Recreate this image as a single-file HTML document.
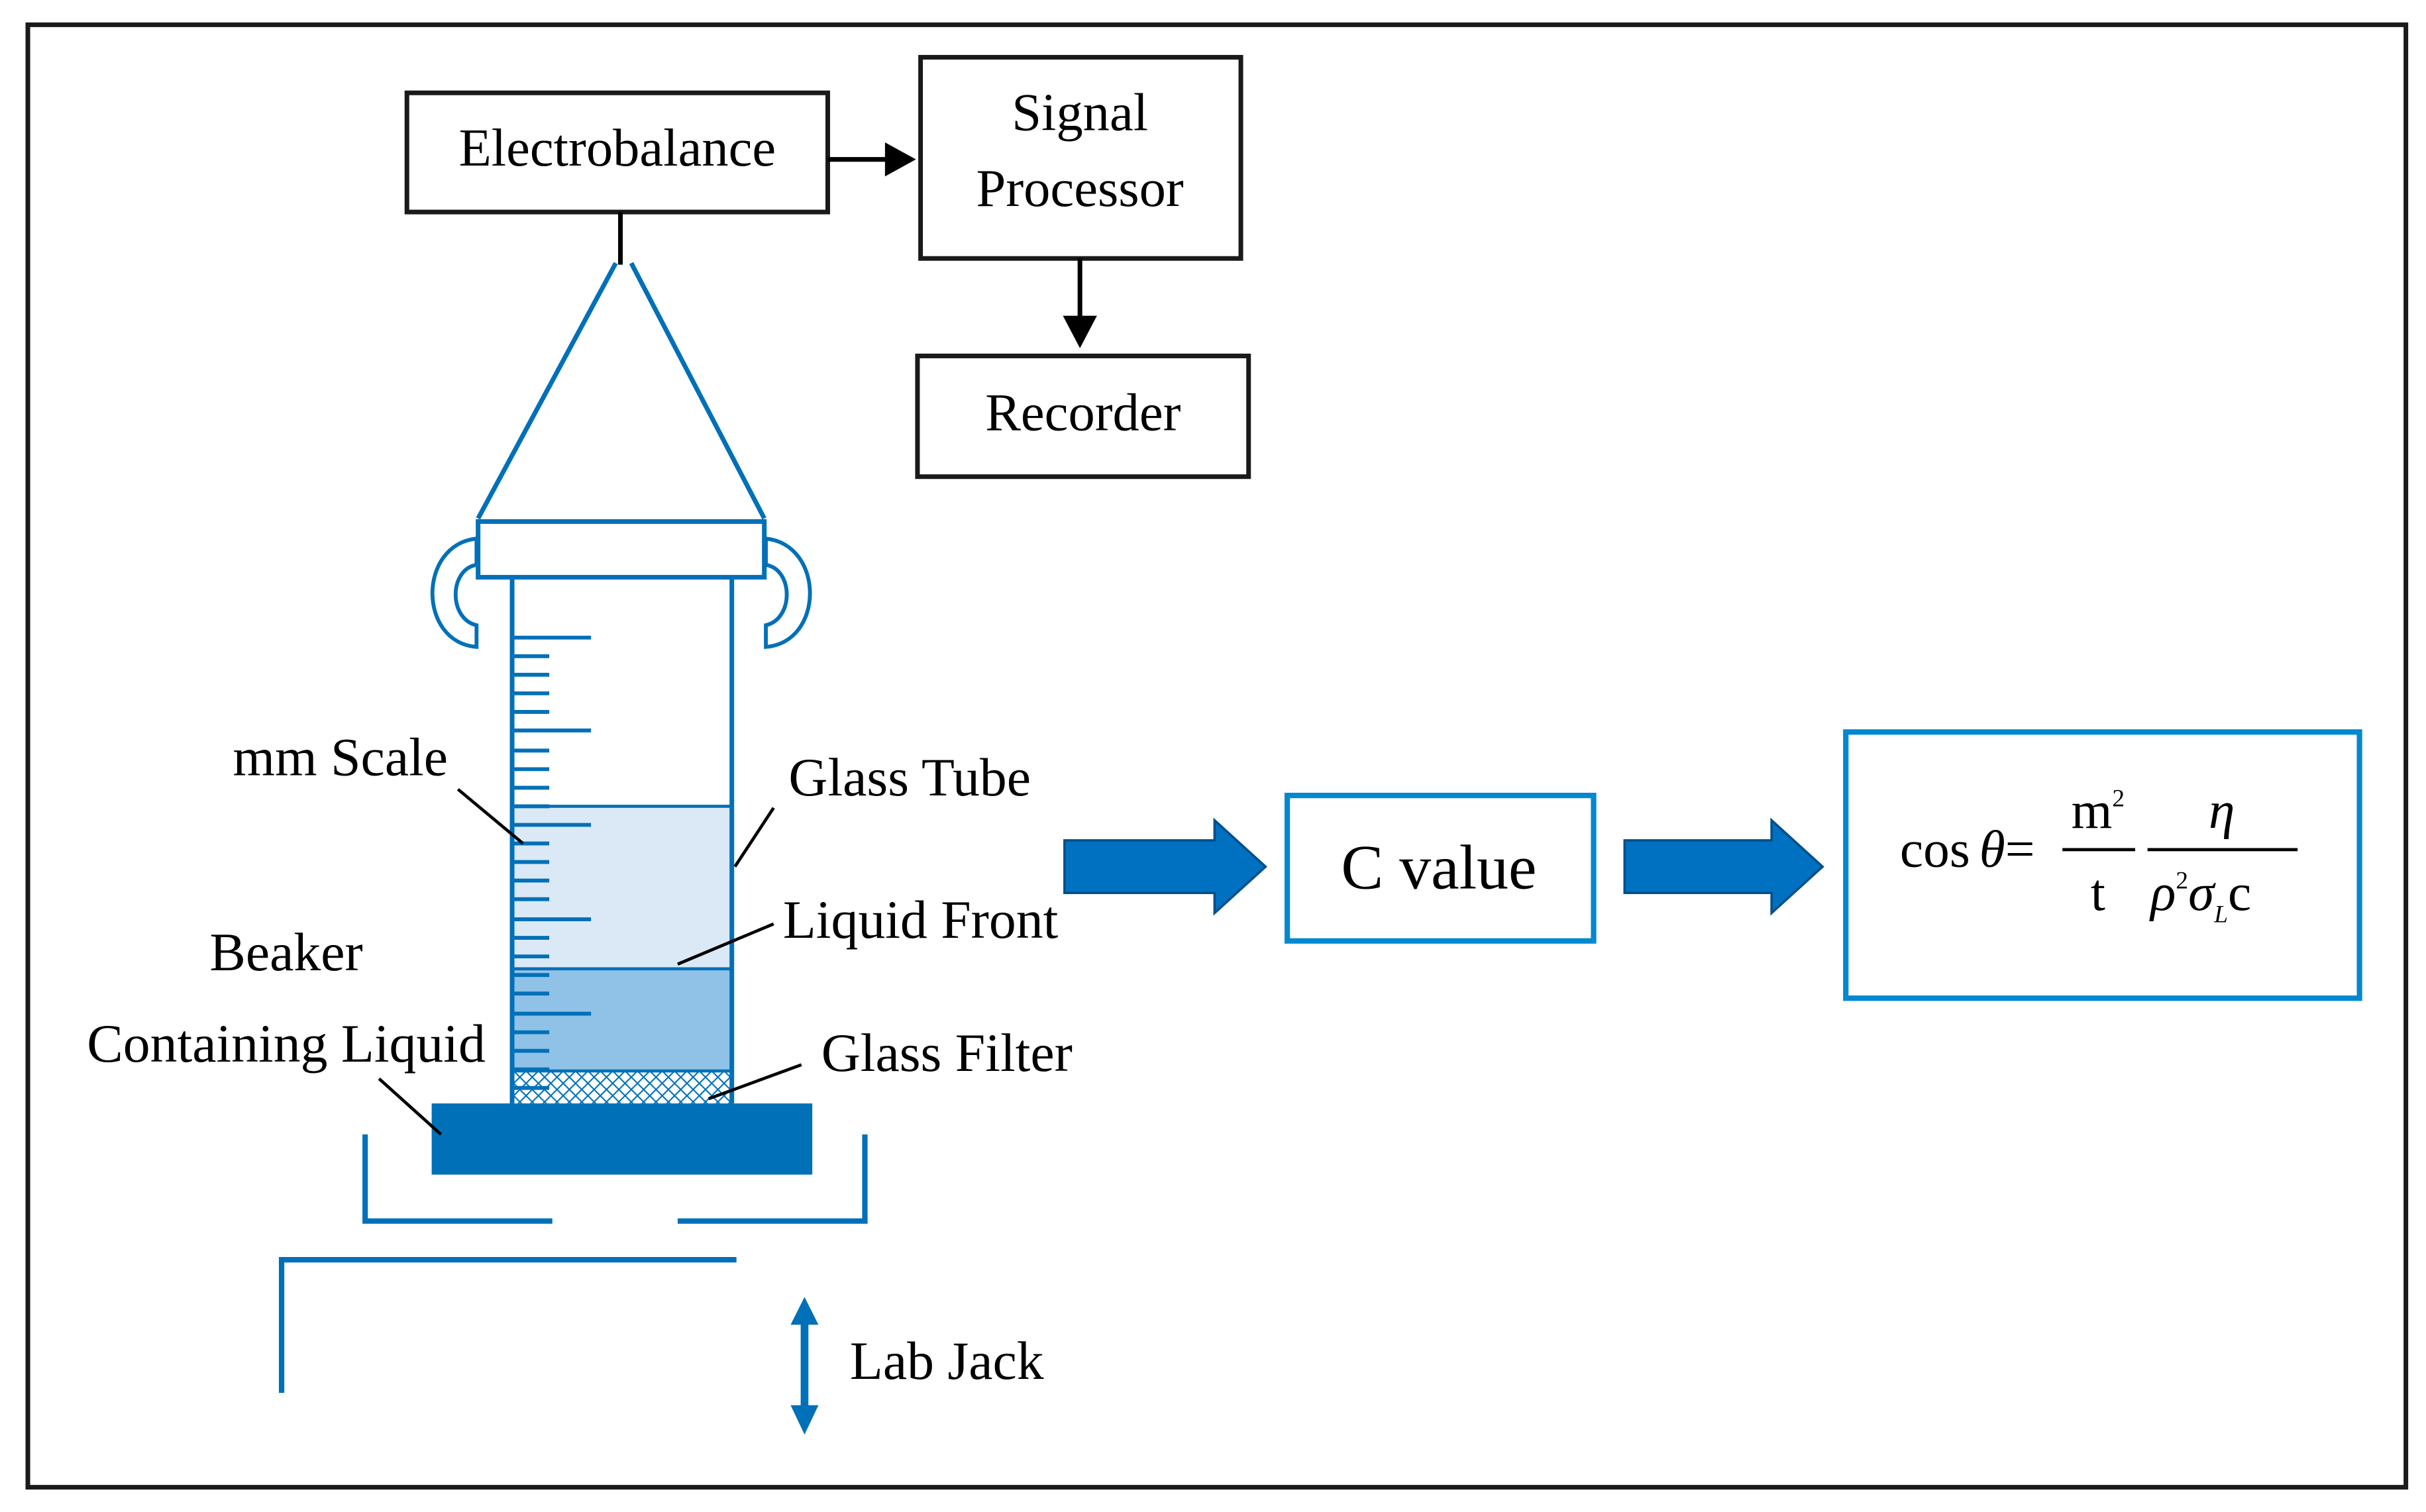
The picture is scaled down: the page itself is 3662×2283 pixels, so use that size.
<!DOCTYPE html>
<html><head><meta charset="utf-8"><style>
html,body{margin:0;padding:0;background:#fff}
svg{display:block}
text{font-family:"Liberation Serif",serif;fill:#000}
</style></head><body>
<svg width="3662" height="2283" viewBox="0 0 1568 977" preserveAspectRatio="none" xmlns="http://www.w3.org/2000/svg">
<defs>
<pattern id="hatch" width="8" height="8" patternUnits="userSpaceOnUse">
<rect width="8" height="8" fill="#fff"/>
<path d="M0 0L8 8M8 0L0 8" stroke="#0070b8" stroke-width="0.9"/>
</pattern>
</defs>
<rect x="18" y="16" width="1537" height="945" fill="#fff" stroke="#1a1a1a" stroke-width="3"/>

<!-- top boxes -->
<rect x="263" y="60" width="272" height="77" fill="#fff" stroke="#1a1a1a" stroke-width="3"/>
<text x="399" y="107" font-size="34.5" text-anchor="middle">Electrobalance</text>
<line x1="535" y1="103" x2="574" y2="103" stroke="#000" stroke-width="3"/>
<polygon points="572,92 592,103 572,114" fill="#000"/>
<rect x="595" y="37" width="207" height="130" fill="#fff" stroke="#1a1a1a" stroke-width="3"/>
<text x="698" y="84" font-size="34.5" text-anchor="middle">Signal</text>
<text x="698" y="133" font-size="34.5" text-anchor="middle">Processor</text>
<line x1="698" y1="167" x2="698" y2="207" stroke="#000" stroke-width="3"/>
<polygon points="687,204 698,225 709,204" fill="#000"/>
<rect x="593" y="230" width="214" height="78" fill="#fff" stroke="#1a1a1a" stroke-width="3"/>
<text x="700" y="278" font-size="34.5" text-anchor="middle">Recorder</text>
<line x1="401" y1="137" x2="401" y2="171" stroke="#000" stroke-width="3"/>

<!-- apparatus -->
<g stroke="#0070b8" stroke-width="3" fill="none">
<line x1="398" y1="170" x2="309" y2="335"/>
<line x1="408" y1="170" x2="494" y2="335"/>
<rect x="309" y="337" width="185" height="36" fill="#fff"/>
<path d="M308 348 C 270 352, 270 415, 308 418 L308 404 C 290 400, 290 368, 308 365 Z" stroke-width="2.5"/>
<path d="M495 348 C 533 352, 533 415, 495 418 L495 404 C 513 400, 513 368, 495 365 Z" stroke-width="2.5"/>
</g>
<rect x="332" y="521" width="141" height="105" fill="#dbe9f6"/>
<rect x="332" y="626" width="141" height="66" fill="#8fc2e6"/>
<rect x="332" y="692" width="141" height="21" fill="url(#hatch)"/>
<g stroke="#0070b8" stroke-width="3" fill="none">
<line x1="331" y1="373" x2="331" y2="713"/>
<line x1="473" y1="373" x2="473" y2="713"/>
<line x1="331" y1="521" x2="473" y2="521" stroke-width="2"/>
<line x1="331" y1="626" x2="473" y2="626" stroke-width="2"/>
<line x1="331" y1="692" x2="473" y2="692" stroke-width="2"/>
</g>
<g stroke="#0070b8" stroke-width="2.5">
<line x1="331" y1="412" x2="382" y2="412"/>
<line x1="331" y1="424" x2="355" y2="424"/>
<line x1="331" y1="436" x2="355" y2="436"/>
<line x1="331" y1="448" x2="355" y2="448"/>
<line x1="331" y1="460" x2="355" y2="460"/>
<line x1="331" y1="472" x2="382" y2="472"/>
<line x1="331" y1="485" x2="355" y2="485"/>
<line x1="331" y1="497" x2="355" y2="497"/>
<line x1="331" y1="509" x2="355" y2="509"/>
<line x1="331" y1="521" x2="355" y2="521"/>
<line x1="331" y1="533" x2="382" y2="533"/>
<line x1="331" y1="545" x2="355" y2="545"/>
<line x1="331" y1="557" x2="355" y2="557"/>
<line x1="331" y1="569" x2="355" y2="569"/>
<line x1="331" y1="581" x2="355" y2="581"/>
<line x1="331" y1="594" x2="382" y2="594"/>
<line x1="331" y1="606" x2="355" y2="606"/>
<line x1="331" y1="618" x2="355" y2="618"/>
<line x1="331" y1="630" x2="355" y2="630"/>
<line x1="331" y1="642" x2="355" y2="642"/>
<line x1="331" y1="655" x2="382" y2="655"/>
<line x1="331" y1="667" x2="355" y2="667"/>
<line x1="331" y1="679" x2="355" y2="679"/>
<line x1="331" y1="691" x2="355" y2="691"/>
<line x1="331" y1="703" x2="355" y2="703"/>
</g>
<rect x="279" y="713" width="246" height="46" fill="#0070b8"/>
<g stroke="#0070b8" stroke-width="3.5" fill="none">
<polyline points="236,733 236,789 357,789"/>
<polyline points="438,789 559,789 559,733"/>
<polyline points="476,814 182,814 182,900"/>
</g>
<line x1="520" y1="852" x2="520" y2="912" stroke="#0070b8" stroke-width="5"/>
<polygon points="511,856 520,838 529,856" fill="#0070b8"/>
<polygon points="511,908 520,927 529,908" fill="#0070b8"/>

<!-- labels -->
<g stroke="#000" stroke-width="2">
<line x1="296" y1="510" x2="338" y2="545"/>
<line x1="500" y1="522" x2="475" y2="560"/>
<line x1="500" y1="597" x2="438" y2="623"/>
<line x1="245" y1="697" x2="285" y2="733"/>
<line x1="518" y1="688" x2="458" y2="710"/>
</g>
<g font-size="35">
<text x="220" y="501" text-anchor="middle">mm Scale</text>
<text x="588" y="514" text-anchor="middle">Glass Tube</text>
<text x="595" y="606" text-anchor="middle">Liquid Front</text>
<text x="185" y="627" text-anchor="middle">Beaker</text>
<text x="185" y="686" text-anchor="middle">Containing Liquid</text>
<text x="612" y="692" text-anchor="middle">Glass Filter</text>
<text x="612" y="891" text-anchor="middle">Lab Jack</text>
</g>

<!-- right flow -->
<polygon points="688,543 785,543 785,530 818,560 785,590 785,577 688,577" fill="#0070c0" stroke="#004f8a" stroke-width="1.5"/>
<rect x="832" y="514" width="198" height="94" fill="#fff" stroke="#0088d0" stroke-width="3.5"/>
<text x="930" y="574" font-size="41" text-anchor="middle">C value</text>
<polygon points="1050,543 1145,543 1145,530 1178,560 1145,590 1145,577 1050,577" fill="#0070c0" stroke="#004f8a" stroke-width="1.5"/>
<rect x="1193" y="473" width="332" height="172" fill="#fff" stroke="#0088d0" stroke-width="3.5"/>
<g font-size="34">
<text x="1228" y="560">cos<tspan font-style="italic" dx="6">θ</tspan>=</text>
<text x="1356" y="535" text-anchor="middle">m<tspan font-size="16" dy="-14">2</tspan></text>
<text x="1356" y="588" text-anchor="middle">t</text>
<text x="1436" y="535" text-anchor="middle" font-style="italic">η</text>
<text x="1390" y="588" font-style="italic">ρ<tspan font-size="16" dy="-14" font-style="normal">2</tspan><tspan dy="14">σ</tspan><tspan font-size="16" dy="8">L</tspan><tspan dy="-8" font-style="normal">c</tspan></text>
</g>
<line x1="1333" y1="549" x2="1380" y2="549" stroke="#000" stroke-width="2"/>
<line x1="1388" y1="549" x2="1485" y2="549" stroke="#000" stroke-width="2"/>
</svg>
</body></html>
